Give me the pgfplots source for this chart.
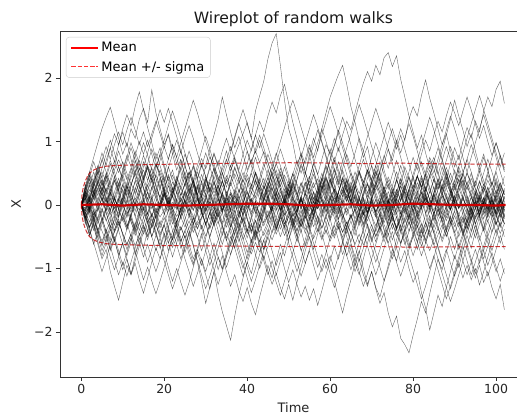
\documentclass[border=0pt]{standalone}
\usepackage{fontspec}
\setmainfont{DejaVu Sans}
\usepackage{pgfplots}
\usepackage{pgfplotstable}
\pgfplotsset{compat=1.18}

% each row is one walk, values at Time = 0,1,...,102
\pgfplotstableread[header=false]{
0 0.21 0.05 0.38 0.52 0.31 0.47 0.18 -0.12 0.05 0.33 0.12 -0.20 -0.41 -0.15 0.08 -0.22 -0.50 -0.31 0.02 0.27 0.45 0.19 0.36 0.71 0.48 0.22 0.40 0.15 -0.11 0.10 0.36 0.58 0.34 0.62 0.85 0.60 0.78 0.95 1.12 1.30 1.05 1.48 1.72 1.95 2.30 2.55 2.70 2.20 1.65 1.20 0.98 0.64 0.80 0.52 0.30 0.55 0.28 0.04 -0.20 0.12 -0.08 0.20 0.44 0.26 0.05 -0.28 -0.10 0.18 0.35 0.10 -0.16 -0.40 -0.22 0.06 0.30 0.52 0.33 0.60 0.42 0.18 -0.05 0.21 -0.12 -0.35 -0.15 0.10 0.32 0.14 -0.08 0.20 0.41 0.25 0.52 0.30 0.08 -0.18 0.04 0.28 0.10 -0.14 0.06 0.22
0 -0.18 -0.35 -0.12 -0.40 -0.62 -0.38 -0.55 -0.20 0.08 0.25 0.02 0.30 0.55 0.32 0.10 -0.14 0.12 -0.20 -0.45 -0.30 -0.58 -0.82 -0.60 -0.35 -0.52 -0.78 -0.95 -0.70 -0.88 -1.10 -1.32 -1.05 -1.40 -1.68 -1.90 -2.13 -1.75 -1.42 -1.15 -0.90 -1.08 -0.80 -0.55 -0.70 -0.42 -0.18 -0.40 -0.15 0.10 0.32 0.12 0.40 0.65 0.48 0.80 1.05 0.85 1.20 1.45 1.70 1.88 2.05 2.20 1.90 1.55 1.30 1.02 0.75 0.92 0.60 0.35 0.52 0.20 0.02 -0.25 -0.05 0.18 -0.10 -0.32 -0.12 0.15 0.38 0.16 -0.08 0.20 0.42 0.24 0.50 0.28 0.05 -0.22 -0.45 -0.20 -0.42 -0.15 0.10 -0.12 0.15 -0.08 -0.30 -0.10 0.12
0 -0.25 -0.48 -0.30 -0.62 -0.85 -0.70 -1.05 -1.28 -1.50 -1.22 -0.95 -1.10 -0.80 -0.52 -0.68 -0.40 -0.15 -0.32 -0.05 0.20 0.02 0.28 0.05 -0.18 0.10 0.32 0.15 0.40 0.62 0.45 0.20 0.38 0.12 -0.10 0.15 0.35 0.58 0.40 0.18 0.42 0.25 0.50 0.30 0.05 -0.20 0.02 0.25 0.48 0.30 0.10 0.35 0.18 -0.05 0.20 0.42 0.65 0.48 0.72 0.95 0.80 1.05 0.85 1.10 1.32 1.18 1.45 1.70 1.92 2.10 1.95 2.20 2.05 2.32 2.40 2.18 2.35 1.98 1.70 1.40 1.15 0.90 1.10 0.82 0.58 0.75 0.50 0.25 0.45 0.20 0.38 0.60 0.42 0.15 -0.08 0.12 -0.15 0.05 0.28 0.10 -0.12 0.08 -0.18
0 0.30 0.52 0.35 0.60 0.42 0.70 0.90 0.68 0.95 1.15 0.92 1.20 1.05 1.35 1.52 1.30 1.81 1.45 1.20 0.95 1.10 0.80 0.55 0.72 0.45 0.20 0.38 0.12 -0.10 0.15 -0.05 -0.28 -0.10 0.18 0.40 0.22 -0.02 0.25 0.05 -0.20 -0.42 -0.18 0.05 0.30 0.12 -0.15 -0.38 -0.20 0.08 -0.12 -0.35 -0.58 -0.40 -0.65 -0.45 -0.20 -0.42 -0.18 0.05 -0.22 -0.48 -0.30 -0.55 -0.80 -0.62 -0.90 -0.72 -1.00 -1.25 -1.05 -1.32 -1.55 -1.38 -1.70 -1.92 -1.75 -2.10 -2.20 -2.33 -2.05 -1.80 -1.52 -1.70 -1.40 -1.12 -0.85 -1.02 -0.75 -0.50 -0.70 -0.42 -0.20 -0.45 -0.22 0.05 -0.18 0.10 -0.12 0.15 0.38 0.18 -0.05
0 -0.15 0.10 -0.20 0.05 0.28 0.08 -0.18 -0.40 -0.22 -0.48 -0.70 -0.52 -0.78 -0.60 -0.35 -0.55 -0.30 -0.08 -0.32 -0.15 0.12 -0.10 -0.35 -0.58 -0.40 -0.62 -0.85 -0.68 -0.45 -0.72 -0.95 -0.75 -1.02 -0.80 -1.05 -1.28 -1.10 -1.35 -1.52 -1.30 -1.55 -1.73 -1.45 -1.20 -0.95 -1.15 -0.88 -0.62 -0.80 -0.55 -0.30 -0.50 -0.25 -0.02 -0.22 0.05 0.28 0.10 -0.12 0.15 -0.08 0.20 0.42 0.25 0.02 0.30 0.10 -0.15 0.08 0.32 0.55 0.38 0.65 0.88 0.70 0.98 1.20 1.02 1.35 1.55 1.40 1.72 1.97 1.68 1.45 1.20 0.95 1.12 0.85 0.60 0.78 0.52 0.30 0.50 0.25 0.05 0.28 0.08 -0.15 0.10 -0.12 0.14
0 0.18 -0.05 0.22 0.05 -0.20 -0.42 -0.25 0.02 -0.18 0.08 0.30 0.12 -0.10 0.15 0.38 0.58 0.40 0.65 0.45 0.22 0.48 0.25 0.02 -0.22 -0.05 0.20 -0.02 0.25 0.48 0.30 0.08 -0.15 0.10 -0.12 -0.35 -0.18 0.05 -0.20 0.02 0.28 0.50 0.32 0.08 0.30 0.55 0.35 0.12 -0.10 0.15 -0.08 -0.30 -0.12 0.12 0.35 0.15 -0.08 0.18 0.40 0.62 0.45 0.70 0.50 0.28 0.05 0.30 0.52 0.35 0.10 -0.12 0.12 -0.10 -0.32 -0.15 0.08 -0.15 0.10 0.35 0.18 -0.05 0.20 0.45 0.28 0.52 0.75 0.58 0.35 0.60 0.40 0.65 0.90 0.72 1.00 1.22 1.05 1.32 1.15 1.48 1.70 1.55 1.82 1.95 1.60
0 -0.22 -0.05 0.20 0.42 0.22 0.48 0.70 0.52 0.30 0.55 0.78 0.60 0.85 0.65 0.40 0.62 0.38 0.15 0.40 0.18 -0.05 0.20 0.45 0.28 0.05 -0.18 0.08 -0.15 -0.38 -0.20 0.05 0.28 0.10 -0.12 0.12 0.35 0.18 -0.05 0.18 -0.08 -0.30 -0.52 -0.35 -0.10 0.15 -0.08 0.20 0.02 -0.22 -0.45 -0.25 -0.50 -0.72 -0.55 -0.30 -0.08 -0.30 -0.52 -0.32 -0.10 0.12 -0.12 0.10 0.32 0.12 -0.12 0.10 -0.15 0.08 -0.18 -0.42 -0.22 0.02 -0.25 -0.05 0.18 0.40 0.20 -0.02 -0.25 -0.48 -0.30 -0.55 -0.35 -0.12 -0.35 -0.58 -0.40 -0.65 -0.85 -0.62 -0.88 -1.10 -0.90 -1.15 -0.95 -1.22 -1.05 -1.30 -1.48 -1.25 -1.65
0 -0.12 -0.35 -0.18 -0.42 -0.65 -0.48 -0.72 -0.55 -0.80 -1.02 -0.85 -1.10 -0.92 -1.18 -1.39 -1.15 -0.90 -0.68 -0.85 -0.60 -0.35 -0.55 -0.28 -0.05 0.20 0.02 0.28 0.52 0.35 0.62 0.88 1.10 1.35 1.70 1.42 1.15 0.90 1.08 0.80 0.55 0.72 0.48 0.25 0.42 0.18 -0.05 0.18 -0.08 0.15 0.38 0.15 -0.10 0.12 -0.12 -0.35 -0.15 0.10 -0.12 0.12 0.35 0.58 0.40 0.18 0.42 0.20 -0.05 -0.28 -0.10 -0.32 -0.55 -0.35 -0.12 -0.38 -0.60 -0.42 -0.68 -0.90 -0.72 -1.00 -1.22 -1.05 -1.38 -1.62 -1.97 -1.70 -1.42 -1.60 -1.30 -1.05 -0.80 -0.98 -0.72 -0.48 -0.68 -0.42 -0.18 -0.40 -0.15 0.08 -0.15 0.10 -0.08
0 0.25 0.48 0.30 0.58 0.82 0.62 0.90 1.12 0.95 1.20 1.42 1.25 1.55 1.78 1.50 1.22 0.98 0.72 0.90 0.62 0.38 0.55 0.30 0.05 -0.18 -0.40 -0.62 -0.90 -1.20 -1.55 -1.30 -1.05 -0.82 -1.00 -0.75 -0.50 -0.68 -0.42 -0.20 -0.42 -0.18 0.05 -0.18 0.08 0.30 0.10 0.35 0.58 0.38 0.15 0.38 0.60 0.82 0.65 0.90 0.70 0.48 0.25 0.45 0.22 0.45 0.68 0.50 0.28 0.05 0.28 0.52 0.30 0.55 0.35 0.12 -0.10 0.15 -0.10 0.12 0.38 0.62 0.42 0.20 0.42 0.65 0.45 0.22 0.48 0.25 0.02 -0.22 -0.02 0.22 0.00 -0.25 -0.48 -0.28 -0.05 0.18 -0.05 -0.28 -0.50 -0.30 -0.08 0.15 -0.10
0 0.12 0.35 0.15 -0.10 0.12 -0.12 -0.35 -0.15 0.10 -0.15 -0.38 -0.18 0.05 0.28 0.08 -0.15 0.10 0.35 0.55 0.38 0.60 0.40 0.18 0.40 0.62 0.85 0.65 0.42 0.20 0.42 0.22 0.48 0.70 0.50 0.28 0.52 0.75 0.55 0.80 1.02 0.85 1.10 1.32 1.15 1.40 1.62 1.45 1.72 1.90 1.60 1.30 1.05 0.78 0.52 0.30 0.05 -0.20 -0.45 -0.70 -0.95 -1.20 -1.45 -1.70 -1.42 -1.18 -0.92 -1.10 -0.85 -0.60 -0.38 -0.58 -0.32 -0.08 -0.30 -0.05 0.18 -0.05 0.22 0.45 0.25 0.02 0.25 0.48 0.28 0.05 -0.18 0.05 0.28 0.50 0.30 0.55 0.35 0.12 -0.10 0.15 0.38 0.18 -0.05 0.20 0.42 0.22 0.45
0 -0.20 0.02 -0.22 -0.45 -0.25 -0.02 0.20 0.02 0.25 0.48 0.28 0.05 -0.18 0.05 -0.20 -0.42 -0.22 -0.45 -0.68 -0.48 -0.72 -0.50 -0.28 -0.05 -0.28 -0.50 -0.30 -0.08 0.15 -0.10 0.12 0.35 0.15 -0.08 0.15 0.38 0.60 0.40 0.18 -0.05 0.18 0.40 0.20 -0.02 -0.25 -0.05 -0.28 -0.50 -0.32 -0.55 -0.35 -0.12 0.10 -0.12 0.12 0.35 0.15 -0.08 -0.30 -0.52 -0.32 -0.55 -0.78 -0.58 -0.82 -1.05 -0.85 -1.10 -1.28 -1.05 -1.30 -1.45 -1.20 -0.95 -0.70 -0.88 -0.62 -0.38 -0.15 -0.38 -0.12 0.12 0.35 0.55 0.38 0.62 0.85 1.10 1.35 1.65 1.40 1.18 0.92 1.12 0.85 0.60 0.80 0.55 0.30 0.52 0.28 0.05
0 0.28 0.52 0.75 0.98 1.20 1.38 1.54 1.30 1.05 0.80 0.98 0.72 0.48 0.70 0.45 0.22 0.42 0.18 -0.05 0.18 -0.08 -0.30 -0.10 0.12 -0.12 0.10 0.32 0.12 -0.10 -0.32 -0.12 0.12 -0.10 -0.32 -0.52 -0.32 -0.08 -0.30 -0.52 -0.75 -0.55 -0.78 -1.00 -0.80 -1.05 -1.25 -1.08 -1.30 -1.48 -1.25 -1.50 -1.22 -0.98 -0.72 -0.50 -0.70 -0.45 -0.22 -0.45 -0.20 0.02 -0.22 0.02 0.25 0.05 0.28 0.50 0.30 0.08 0.30 0.52 0.32 0.10 -0.12 0.10 -0.15 0.08 0.30 0.10 -0.12 -0.35 -0.15 0.10 -0.12 0.12 0.35 0.15 0.38 0.18 -0.05 0.18 -0.05 -0.28 -0.08 -0.30 -0.10 0.12 -0.10 0.12 0.35 0.15 -0.08
0 0.15 -0.08 0.15 0.38 0.20 -0.02 0.22 0.45 0.25 0.02 -0.20 0.02 0.25 0.45 0.68 0.48 0.25 0.48 0.70 0.92 0.72 0.95 0.75 0.52 0.30 0.52 0.30 0.08 -0.15 0.08 -0.15 0.08 0.30 0.12 -0.10 0.12 -0.12 -0.35 -0.15 0.08 0.30 0.52 0.35 0.12 0.35 0.15 -0.08 0.15 -0.08 -0.30 -0.10 0.12 0.35 0.15 0.38 0.18 -0.05 0.18 0.40 0.20 -0.02 0.20 0.42 0.22 0.00 -0.22 -0.02 0.20 0.42 0.62 0.45 0.68 0.48 0.25 0.48 0.70 0.50 0.28 0.52 0.75 0.55 0.80 1.02 0.85 1.10 1.32 1.15 1.40 1.62 1.45 1.25 1.48 1.70 1.50 1.28 1.05 1.25 1.00 0.78 0.98 0.75 0.52
0 -0.25 -0.48 -0.28 -0.50 -0.72 -0.55 -0.32 -0.55 -0.78 -0.60 -0.38 -0.15 -0.38 -0.60 -0.82 -0.62 -0.85 -1.05 -0.85 -0.62 -0.40 -0.62 -0.40 -0.18 0.05 -0.18 0.05 0.28 0.08 -0.15 -0.38 -0.18 -0.40 -0.62 -0.42 -0.65 -0.45 -0.22 0.00 -0.22 -0.45 -0.25 -0.48 -0.70 -0.50 -0.72 -0.95 -0.75 -1.00 -1.22 -1.02 -1.25 -1.45 -1.28 -1.50 -1.32 -1.58 -1.35 -1.10 -0.88 -0.65 -0.85 -0.60 -0.38 -0.15 -0.38 -0.15 0.08 -0.15 0.08 -0.15 -0.38 -0.58 -0.38 -0.15 -0.38 -0.60 -0.40 -0.18 0.05 -0.18 0.05 0.28 0.08 -0.15 -0.38 -0.18 -0.40 -0.20 -0.42 -0.65 -0.45 -0.68 -0.90 -0.70 -0.92 -0.72 -0.50 -0.72 -0.50 -0.28 -0.50
0 0.22 0.45 0.68 0.48 0.70 0.92 0.72 0.95 1.15 0.95 1.18 1.38 1.18 0.95 1.15 0.92 1.12 1.32 1.12 0.90 1.12 0.88 0.65 0.85 0.62 0.40 0.60 0.38 0.15 0.38 0.60 0.82 0.62 0.85 1.05 0.85 1.08 1.30 1.50 1.28 1.05 0.82 1.02 0.80 0.58 0.35 0.55 0.32 0.10 0.32 0.10 -0.12 0.10 -0.12 -0.35 -0.15 0.08 0.30 0.10 0.32 0.55 0.35 0.58 0.80 0.60 0.82 1.05 0.85 0.62 0.40 0.62 0.40 0.18 -0.05 0.18 0.40 0.20 -0.02 0.20 -0.02 0.20 0.42 0.22 0.45 0.68 0.48 0.70 0.92 0.72 0.50 0.28 0.50 0.72 0.52 0.30 0.52 0.75 0.55 0.32 0.55 0.78 0.58
0 -0.08 0.15 -0.08 -0.30 -0.10 0.12 -0.10 0.12 0.35 0.15 -0.08 0.15 0.38 0.18 -0.05 -0.28 -0.50 -0.30 -0.52 -0.75 -0.98 -1.20 -1.00 -1.22 -1.42 -1.22 -0.98 -0.75 -0.95 -0.72 -0.50 -0.28 -0.05 -0.28 -0.05 0.18 -0.05 0.18 0.40 0.20 -0.02 0.20 0.42 0.65 0.45 0.22 0.45 0.25 0.02 0.25 0.48 0.70 0.50 0.72 0.95 0.75 0.98 1.20 1.00 0.78 0.55 0.32 0.55 0.35 0.12 -0.10 -0.32 -0.12 -0.35 -0.58 -0.38 -0.15 0.08 -0.15 -0.38 -0.18 -0.40 -0.62 -0.42 -0.20 -0.42 -0.65 -0.45 -0.22 -0.45 -0.68 -0.90 -0.70 -0.92 -1.12 -0.92 -1.15 -0.95 -1.18 -1.00 -1.26 -1.05 -0.82 -0.60 -0.38 -0.60 -0.38
0 0.10 -0.12 -0.35 -0.58 -0.80 -0.60 -0.82 -1.02 -0.82 -0.60 -0.80 -0.58 -0.35 -0.12 0.10 0.32 0.12 -0.10 0.12 0.35 0.58 0.80 1.02 0.82 1.05 1.25 1.05 0.82 0.60 0.82 0.60 0.38 0.15 0.38 0.15 -0.08 0.15 -0.08 -0.30 -0.52 -0.32 -0.55 -0.32 -0.10 0.12 0.35 0.15 0.38 0.60 0.40 0.18 0.40 0.62 0.42 0.20 -0.02 0.20 0.42 0.22 0.00 0.22 0.00 -0.22 -0.45 -0.25 -0.48 -0.28 -0.05 0.18 0.40 0.62 0.85 1.08 1.30 1.10 0.88 1.10 0.88 0.65 0.42 0.20 -0.02 0.20 -0.02 -0.25 -0.05 -0.28 -0.50 -0.30 -0.08 0.15 -0.08 -0.30 -0.52 -0.32 -0.55 -0.35 -0.12 0.10 -0.12 -0.35 -0.15
0 -0.18 -0.40 -0.62 -0.42 -0.20 -0.42 -0.65 -0.88 -1.10 -0.90 -1.12 -0.90 -0.68 -0.45 -0.68 -0.90 -0.70 -0.48 -0.25 -0.48 -0.25 -0.02 0.20 -0.02 0.20 0.42 0.62 0.42 0.65 0.45 0.22 0.45 0.25 0.02 -0.20 0.02 -0.20 -0.42 -0.62 -0.85 -0.65 -0.42 -0.65 -0.88 -1.10 -0.88 -1.10 -0.88 -0.65 -0.42 -0.20 -0.42 -0.20 0.02 0.25 0.48 0.28 0.50 0.30 0.52 0.75 0.55 0.32 0.10 0.32 0.10 -0.12 -0.35 -0.12 0.10 0.32 0.12 -0.10 -0.32 -0.55 -0.35 -0.12 -0.35 -0.58 -0.80 -0.60 -0.38 -0.15 0.08 -0.15 0.08 0.30 0.52 0.32 0.55 0.35 0.12 -0.10 0.12 0.35 0.58 0.38 0.15 -0.08 0.15 -0.08 -0.30
0 0.32 0.10 0.32 0.55 0.35 0.12 -0.10 -0.32 -0.12 0.10 0.32 0.55 0.78 1.00 0.80 1.02 0.80 0.58 0.80 0.58 0.35 0.12 0.35 0.58 0.80 0.60 0.38 0.15 -0.08 -0.30 -0.52 -0.75 -0.55 -0.32 -0.55 -0.78 -0.58 -0.35 -0.12 0.10 0.32 0.12 0.35 0.58 0.80 0.60 0.82 0.62 0.40 0.18 -0.05 -0.28 -0.08 -0.30 -0.52 -0.75 -0.98 -0.78 -1.00 -0.80 -1.02 -0.80 -0.58 -0.35 -0.58 -0.35 -0.12 0.10 -0.12 0.10 0.32 0.55 0.78 0.58 0.80 1.02 0.82 1.05 1.28 1.08 0.85 0.62 0.40 0.18 0.40 0.18 -0.05 0.18 -0.05 -0.28 -0.50 -0.30 -0.08 -0.30 -0.52 -0.30 -0.08 0.15 -0.08 -0.30 -0.10 0.12
0 -0.10 0.12 0.35 0.15 0.38 0.18 0.40 0.62 0.85 0.65 0.42 0.20 -0.02 0.20 0.42 0.65 0.88 0.68 0.45 0.22 0.00 -0.22 -0.45 -0.68 -0.48 -0.70 -0.92 -0.72 -0.50 -0.28 -0.50 -0.28 -0.05 0.18 0.40 0.62 0.42 0.20 0.42 0.65 0.88 1.10 0.90 1.12 0.92 0.70 0.48 0.25 0.02 0.25 0.02 -0.20 -0.42 -0.20 0.02 -0.20 0.02 0.25 0.48 0.70 0.92 1.15 1.38 1.18 0.95 0.72 0.50 0.72 0.50 0.28 0.05 -0.18 -0.40 -0.62 -0.85 -0.65 -0.42 -0.20 -0.42 -0.20 0.02 0.25 0.48 0.70 0.50 0.72 0.95 1.18 1.40 1.20 0.98 0.75 0.52 0.75 0.98 1.20 1.42 1.20 0.98 0.75 0.52 0.30
0 0.05 -0.18 -0.40 -0.20 0.02 0.25 0.05 -0.18 -0.40 -0.62 -0.85 -1.08 -0.88 -0.65 -0.42 -0.20 0.02 -0.20 0.02 0.25 0.05 -0.18 -0.40 -0.62 -0.85 -1.05 -1.28 -1.08 -0.85 -1.05 -0.82 -0.60 -0.82 -1.02 -0.80 -0.58 -0.35 -0.58 -0.35 -0.12 0.10 -0.12 -0.35 -0.15 0.08 -0.15 -0.38 -0.18 0.05 0.28 0.50 0.30 0.08 -0.15 -0.38 -0.60 -0.82 -1.05 -0.85 -1.08 -1.30 -1.10 -0.88 -0.65 -0.42 -0.65 -0.88 -0.68 -0.45 -0.68 -0.90 -0.70 -0.48 -0.25 -0.02 0.20 0.42 0.22 0.00 0.22 0.45 0.25 0.02 -0.20 -0.42 -0.65 -0.88 -1.10 -1.32 -1.10 -0.88 -0.65 -0.88 -1.10 -0.90 -0.68 -0.90 -1.12 -0.92 -0.70 -0.48 -0.70
0 0.20 0.42 0.22 0.00 0.22 0.45 0.25 0.02 -0.20 0.02 0.25 0.48 0.70 0.50 0.28 0.05 -0.18 0.05 0.28 0.50 0.72 0.95 0.75 0.98 1.20 1.42 1.65 1.45 1.22 1.00 0.78 0.55 0.32 0.10 -0.12 -0.35 -0.15 0.08 -0.15 -0.38 -0.60 -0.40 -0.18 0.05 0.28 0.50 0.30 0.08 -0.15 0.08 0.30 0.52 0.75 0.98 1.20 1.42 1.22 1.00 0.78 0.55 0.32 0.10 -0.12 -0.35 -0.15 -0.38 -0.60 -0.40 -0.18 0.05 -0.18 0.05 0.28 0.08 -0.15 0.08 0.30 0.10 -0.12 -0.35 -0.58 -0.80 -0.60 -0.38 -0.15 0.08 -0.15 -0.38 -0.18 0.05 0.28 0.50 0.72 0.95 0.75 0.52 0.30 0.52 0.75 0.98 0.78 0.55
0 -0.30 -0.08 -0.30 -0.52 -0.30 -0.08 0.15 0.38 0.18 -0.05 -0.28 -0.50 -0.72 -0.95 -1.18 -0.98 -1.20 -1.40 -1.20 -0.98 -0.75 -0.52 -0.30 -0.52 -0.75 -0.55 -0.32 -0.10 0.12 0.35 0.58 0.80 0.60 0.38 0.15 -0.08 -0.30 -0.52 -0.75 -0.98 -1.20 -1.00 -0.78 -0.55 -0.78 -1.00 -1.22 -1.42 -1.20 -0.98 -0.75 -0.52 -0.30 -0.08 0.15 -0.08 0.15 0.38 0.60 0.40 0.18 -0.05 -0.28 -0.50 -0.72 -0.95 -0.75 -0.52 -0.30 -0.52 -0.75 -0.98 -1.20 -1.00 -0.78 -0.55 -0.32 -0.10 0.12 -0.10 -0.32 -0.55 -0.78 -1.00 -0.80 -1.02 -1.25 -1.48 -1.28 -1.05 -0.82 -0.60 -0.38 -0.15 0.08 -0.15 -0.38 -0.60 -0.82 -1.05 -0.85 -1.08
0 0.12 -0.10 0.12 0.35 0.58 0.80 1.02 0.82 0.60 0.38 0.15 -0.08 0.15 0.38 0.60 0.82 1.05 1.28 1.50 1.30 1.52 1.30 1.08 0.85 0.62 0.40 0.18 -0.05 0.18 0.40 0.20 -0.02 -0.25 -0.48 -0.28 -0.05 0.18 0.40 0.62 0.85 0.65 0.88 1.10 0.90 0.68 0.45 0.22 0.00 -0.22 -0.45 -0.68 -0.90 -1.12 -0.92 -0.70 -0.48 -0.25 -0.02 0.20 0.42 0.22 0.45 0.68 0.90 1.12 1.35 1.58 1.38 1.15 0.92 0.70 0.48 0.25 0.02 0.25 0.02 -0.20 -0.42 -0.65 -0.45 -0.22 0.00 0.22 0.45 0.68 0.90 0.70 0.48 0.25 0.02 -0.20 -0.42 -0.22 0.00 0.22 0.00 -0.22 0.00 -0.22 -0.45 -0.25 -0.02
0 -0.15 -0.38 -0.60 -0.82 -1.05 -0.85 -0.62 -0.40 -0.18 0.05 -0.18 0.05 -0.18 -0.40 -0.20 0.02 0.25 0.48 0.28 0.05 -0.18 -0.40 -0.62 -0.85 -0.65 -0.42 -0.65 -0.88 -1.10 -1.32 -1.12 -0.90 -0.68 -0.45 -0.22 -0.45 -0.68 -0.90 -1.12 -0.92 -0.70 -0.48 -0.25 -0.02 0.20 0.42 0.65 0.88 0.68 0.45 0.22 0.00 -0.22 -0.45 -0.25 -0.02 0.20 0.42 0.65 0.88 0.68 0.90 0.70 0.48 0.25 0.02 -0.20 -0.42 -0.65 -0.88 -1.10 -0.90 -0.68 -0.45 -0.68 -0.90 -1.12 -0.92 -0.70 -0.48 -0.70 -0.50 -0.28 -0.05 0.18 0.40 0.20 -0.02 -0.25 -0.48 -0.70 -0.50 -0.28 -0.05 -0.28 -0.50 -0.72 -0.95 -0.75 -0.98 -1.20 -1.00
0 0.28 0.05 0.28 0.50 0.72 0.52 0.30 0.08 0.30 0.52 0.75 0.98 0.78 0.55 0.78 0.58 0.35 0.58 0.80 1.02 1.25 1.48 1.28 1.05 0.82 0.60 0.38 0.15 0.38 0.15 -0.08 -0.30 -0.52 -0.75 -0.98 -0.78 -0.55 -0.78 -1.00 -0.80 -0.58 -0.35 -0.12 0.10 0.32 0.55 0.78 1.00 1.22 1.45 1.65 1.45 1.22 1.00 0.78 0.55 0.32 0.10 0.32 0.10 -0.12 -0.35 -0.58 -0.80 -1.02 -0.82 -0.60 -0.38 -0.15 0.08 0.30 0.52 0.75 0.98 1.20 0.98 0.75 0.52 0.30 0.08 -0.15 -0.38 -0.60 -0.40 -0.62 -0.85 -1.08 -1.30 -1.52 -1.32 -1.10 -0.88 -0.65 -0.42 -0.20 0.02 0.25 0.48 0.28 0.05 -0.18 0.05
0 -0.05 0.18 0.40 0.62 0.42 0.20 -0.02 0.20 0.42 0.20 -0.02 -0.25 -0.48 -0.28 -0.05 -0.28 -0.50 -0.72 -0.52 -0.30 -0.08 0.15 0.38 0.60 0.40 0.18 0.40 0.62 0.85 1.08 0.88 0.65 0.42 0.20 -0.02 -0.25 -0.48 -0.70 -0.92 -1.15 -1.38 -1.18 -0.95 -0.72 -0.50 -0.28 -0.05 -0.28 -0.05 0.18 0.40 0.20 -0.02 0.20 0.42 0.65 0.88 1.10 1.32 1.55 1.35 1.12 0.90 0.68 0.45 0.22 0.00 -0.22 0.00 0.22 0.45 0.25 0.02 -0.20 0.02 -0.20 -0.42 -0.22 0.00 0.22 0.45 0.68 0.48 0.25 0.02 0.25 0.48 0.70 0.92 0.72 0.50 0.28 0.05 -0.18 -0.40 -0.62 -0.85 -0.65 -0.42 -0.20 0.02 -0.20
0 0.18 0.40 0.20 -0.02 -0.25 -0.48 -0.70 -0.50 -0.72 -0.95 -0.75 -0.52 -0.30 -0.08 0.15 0.38 0.60 0.82 0.62 0.40 0.18 -0.05 -0.28 -0.05 0.18 -0.05 -0.28 -0.50 -0.72 -0.52 -0.30 -0.08 0.15 0.38 0.60 0.82 1.05 1.28 1.08 0.85 0.62 0.40 0.18 -0.05 -0.28 -0.05 0.18 0.40 0.20 -0.02 -0.25 -0.48 -0.70 -0.92 -0.72 -0.95 -1.18 -0.98 -0.75 -0.52 -0.30 -0.08 0.15 0.38 0.18 0.40 0.62 0.85 1.08 1.30 1.52 1.32 1.10 0.88 0.65 0.42 0.20 -0.02 -0.25 -0.48 -0.28 -0.05 -0.28 -0.50 -0.30 -0.08 0.15 -0.08 0.15 0.38 0.60 0.82 1.05 1.28 1.50 1.72 1.50 1.28 1.05 0.82 0.60 0.82
0 -0.22 -0.45 -0.25 -0.02 0.20 0.42 0.65 0.45 0.22 0.45 0.68 0.90 0.70 0.48 0.25 0.02 -0.20 -0.42 -0.65 -0.88 -1.10 -1.32 -1.12 -0.90 -0.68 -0.45 -0.22 0.00 0.22 0.45 0.25 0.02 0.25 0.48 0.70 0.92 0.72 0.50 0.28 0.05 -0.18 -0.40 -0.62 -0.85 -0.65 -0.42 -0.20 0.02 0.25 0.05 -0.18 0.05 0.28 0.50 0.72 0.95 1.18 0.98 0.75 0.52 0.30 0.08 -0.15 -0.38 -0.60 -0.82 -1.05 -1.28 -1.08 -0.85 -0.62 -0.40 -0.18 0.05 -0.18 -0.40 -0.20 0.02 0.25 0.48 0.70 0.92 1.15 1.38 1.18 0.95 0.72 0.50 0.28 0.05 -0.18 -0.40 -0.62 -0.85 -1.08 -0.88 -0.65 -0.42 -0.20 0.02 -0.20 0.02
0 0.08 0.30 0.52 0.32 0.10 -0.12 -0.35 -0.58 -0.38 -0.15 0.08 0.30 0.52 0.75 0.98 0.78 0.55 0.32 0.10 -0.12 -0.35 -0.15 0.08 0.30 0.52 0.32 0.10 -0.12 -0.35 -0.58 -0.80 -1.02 -1.25 -1.05 -0.82 -0.60 -0.38 -0.15 0.08 0.30 0.52 0.75 0.55 0.32 0.10 -0.12 -0.35 -0.15 -0.38 -0.60 -0.82 -1.05 -0.85 -0.62 -0.40 -0.18 0.05 0.28 0.50 0.72 0.95 1.18 0.98 0.75 0.52 0.30 0.08 0.30 0.52 0.75 0.98 0.78 0.55 0.32 0.10 -0.12 -0.35 -0.58 -0.80 -1.02 -1.25 -1.48 -1.28 -1.05 -0.82 -0.60 -0.38 -0.15 0.08 0.30 0.08 -0.15 -0.38 -0.18 0.05 0.28 0.50 0.72 0.52 0.30 0.08 -0.15
0 0.14 0.31 0.09 0.26 0.40 0.22 0.35 0.12 -0.06 0.11 0.29 0.15 0.02 0.20 0.37 0.18 0.05 -0.13 0.04 0.21 0.08 -0.10 -0.27 -0.09 0.07 -0.12 -0.30 -0.14 0.03 0.18 0.36 0.19 0.33 0.51 0.34 0.47 0.29 0.10 0.26 0.08 -0.11 0.06 -0.15 -0.33 -0.16 -0.02 -0.21 -0.38 -0.19 -0.04 0.13 -0.05 0.12 0.30 0.45 0.27 0.41 0.23 0.06 -0.12 0.03 0.19 0.01 -0.16 0.02 0.17 -0.01 0.14 0.32 0.16 -0.03 0.12 0.28 0.10 -0.08 0.09 -0.10 -0.28 -0.12 0.05 0.22 0.06 -0.13 0.04 0.19 0.35 0.18 0.01 0.17 0.33 0.15 -0.02 0.14 -0.05 -0.22 -0.06 0.11 -0.07 0.09 0.24 0.07 -0.10
0 -0.11 -0.27 -0.09 -0.24 -0.41 -0.58 -0.39 -0.55 -0.36 -0.19 -0.34 -0.16 0.01 -0.15 -0.32 -0.48 -0.31 -0.47 -0.63 -0.45 -0.60 -0.42 -0.25 -0.40 -0.22 -0.05 -0.21 -0.37 -0.19 -0.02 0.16 0.01 -0.16 -0.31 -0.14 -0.30 -0.46 -0.28 -0.44 -0.60 -0.77 -0.59 -0.74 -0.56 -0.39 -0.55 -0.37 -0.20 -0.36 -0.18 -0.01 -0.17 -0.33 -0.15 0.02 -0.14 -0.30 -0.12 0.05 0.22 0.05 0.21 0.38 0.20 0.36 0.18 0.01 -0.16 0.00 -0.17 -0.33 -0.15 -0.31 -0.47 -0.29 -0.45 -0.61 -0.43 -0.26 -0.42 -0.58 -0.40 -0.56 -0.72 -0.54 -0.37 -0.53 -0.35 -0.18 -0.34 -0.16 0.01 -0.15 0.02 0.19 0.02 -0.15 0.01 -0.16 -0.32 -0.14 -0.30
0 0.16 0.02 0.19 0.35 0.52 0.36 0.53 0.69 0.51 0.68 0.50 0.33 0.49 0.31 0.14 0.30 0.47 0.29 0.12 0.28 0.11 -0.06 0.10 -0.07 0.09 0.26 0.08 -0.09 0.07 0.24 0.40 0.57 0.39 0.56 0.72 0.54 0.71 0.53 0.36 0.52 0.69 0.85 0.67 0.84 0.66 0.49 0.65 0.47 0.30 0.13 0.29 0.11 -0.06 0.10 0.27 0.09 0.25 0.42 0.24 0.41 0.23 0.06 0.22 0.39 0.21 0.37 0.54 0.36 0.19 0.35 0.52 0.34 0.17 0.33 0.15 -0.02 0.14 0.31 0.13 0.29 0.46 0.28 0.45 0.61 0.43 0.26 0.42 0.59 0.41 0.24 0.40 0.22 0.05 0.21 0.38 0.20 0.03 0.19 0.36 0.18 0.34 0.16
0 -0.09 0.07 -0.10 -0.26 -0.08 -0.25 -0.07 0.10 -0.06 -0.23 -0.39 -0.21 -0.38 -0.20 -0.03 -0.19 -0.36 -0.18 -0.01 0.16 -0.01 0.15 -0.02 -0.19 -0.35 -0.17 -0.34 -0.50 -0.32 -0.49 -0.31 -0.14 -0.30 -0.12 0.05 -0.11 0.06 -0.10 -0.27 -0.09 0.08 -0.08 -0.25 -0.07 0.10 0.27 0.09 -0.08 0.09 -0.07 -0.24 -0.40 -0.22 -0.39 -0.21 -0.04 -0.20 -0.37 -0.19 -0.35 -0.52 -0.34 -0.51 -0.33 -0.16 -0.32 -0.14 0.03 -0.13 0.04 -0.12 0.05 0.22 0.04 0.21 0.03 -0.14 0.03 -0.13 -0.30 -0.12 -0.29 -0.45 -0.27 -0.44 -0.26 -0.09 -0.25 -0.07 0.10 -0.06 0.11 -0.05 -0.22 -0.04 0.13 -0.03 -0.20 -0.02 0.15 -0.01 -0.18
0 0.19 0.01 0.20 0.38 0.21 0.04 0.23 0.41 0.60 0.42 0.25 0.43 0.62 0.44 0.27 0.09 0.28 0.10 -0.07 0.12 0.30 0.13 -0.05 0.14 0.32 0.51 0.33 0.16 0.34 0.17 -0.01 -0.18 0.01 0.19 0.02 -0.16 -0.33 -0.15 0.04 0.22 0.05 -0.13 0.06 0.24 0.43 0.25 0.08 0.26 0.09 -0.09 -0.26 -0.08 0.11 -0.07 -0.24 -0.06 0.13 0.31 0.14 -0.04 0.15 -0.03 -0.20 -0.02 0.17 0.35 0.18 0.36 0.55 0.37 0.20 0.02 0.21 0.39 0.22 0.04 -0.13 0.05 0.24 0.06 -0.11 0.08 0.26 0.09 -0.09 0.10 0.28 0.11 -0.07 0.12 0.30 0.49 0.31 0.14 -0.04 0.15 0.33 0.16 -0.02 0.17 0.35 0.18
0 -0.20 -0.03 -0.22 -0.40 -0.23 -0.06 -0.25 -0.43 -0.26 -0.45 -0.63 -0.46 -0.28 -0.47 -0.29 -0.12 -0.31 -0.13 0.04 -0.15 0.03 -0.16 -0.34 -0.17 0.01 0.18 0.36 0.19 0.01 -0.18 -0.36 -0.19 -0.02 0.16 -0.03 -0.21 -0.04 0.14 -0.05 -0.23 -0.41 -0.24 -0.43 -0.26 -0.09 -0.28 -0.46 -0.29 -0.48 -0.30 -0.13 -0.32 -0.14 0.03 -0.16 -0.34 -0.17 -0.36 -0.18 -0.01 -0.20 -0.38 -0.21 -0.04 -0.23 -0.05 0.12 -0.07 -0.25 -0.08 0.09 -0.10 -0.28 -0.11 -0.29 -0.48 -0.31 -0.49 -0.68 -0.50 -0.33 -0.52 -0.34 -0.17 -0.36 -0.18 -0.01 -0.20 -0.02 0.15 -0.04 0.13 -0.05 -0.24 -0.06 0.11 -0.08 -0.26 -0.09 0.08 -0.11 -0.29
0 0.10 0.24 0.13 0.27 0.16 0.05 0.19 0.08 -0.03 0.11 0.00 -0.11 0.03 -0.08 0.06 0.20 0.09 0.23 0.12 0.01 -0.10 0.04 -0.07 0.07 0.21 0.10 -0.01 0.13 0.02 -0.09 0.05 -0.06 -0.17 -0.03 0.11 0.00 0.14 0.03 -0.08 0.06 0.20 0.09 -0.02 0.12 0.01 -0.10 0.04 -0.07 0.07 -0.04 0.10 -0.01 0.13 0.02 -0.09 0.05 -0.06 0.08 -0.03 0.11 0.25 0.14 0.03 0.17 0.06 -0.05 0.09 -0.02 -0.13 0.01 -0.10 0.04 -0.07 0.07 -0.04 0.10 -0.01 -0.12 0.02 -0.09 0.05 0.19 0.08 -0.03 0.11 0.00 0.14 0.03 -0.08 0.06 -0.05 0.09 -0.02 0.12 0.01 -0.10 0.04 -0.07 0.07 -0.04 0.10 -0.01
0 -0.13 -0.02 -0.16 -0.05 0.09 -0.02 -0.15 -0.04 0.10 -0.01 -0.14 -0.03 0.11 0.00 -0.13 -0.27 -0.16 -0.05 -0.19 -0.08 0.06 -0.05 -0.18 -0.07 0.07 -0.04 -0.17 -0.31 -0.20 -0.09 0.05 -0.06 -0.19 -0.08 0.06 0.20 0.09 -0.02 -0.15 -0.04 0.10 -0.01 -0.14 -0.28 -0.17 -0.06 0.08 -0.03 -0.16 -0.05 -0.18 -0.07 0.07 -0.04 -0.17 -0.06 0.08 -0.03 0.11 0.00 -0.13 -0.02 -0.15 -0.29 -0.18 -0.07 -0.20 -0.09 0.05 -0.06 -0.19 -0.08 0.06 -0.05 -0.18 -0.07 0.07 0.21 0.10 -0.01 -0.14 -0.03 0.11 0.00 -0.13 -0.02 -0.15 -0.04 0.10 -0.01 -0.14 -0.28 -0.17 -0.06 -0.19 -0.08 0.06 -0.05 -0.18 -0.07 0.07 -0.04
0 0.22 0.08 0.29 0.46 0.30 0.50 0.35 0.55 0.71 0.56 0.40 0.58 0.43 0.27 0.45 0.62 0.47 0.65 0.50 0.34 0.18 0.36 0.21 0.05 0.23 0.07 -0.09 0.09 -0.07 0.11 0.28 0.13 0.31 0.15 -0.01 0.17 0.01 -0.15 0.03 0.20 0.05 0.23 0.40 0.25 0.43 0.60 0.45 0.29 0.47 0.31 0.49 0.33 0.18 0.36 0.20 0.04 0.22 0.06 -0.10 0.08 0.25 0.10 0.28 0.12 -0.04 0.14 -0.02 0.16 0.33 0.18 0.36 0.20 0.04 -0.12 0.06 0.24 0.08 0.26 0.43 0.28 0.46 0.30 0.14 -0.02 0.16 0.00 0.18 0.35 0.20 0.04 0.22 0.39 0.24 0.42 0.26 0.10 0.28 0.12 -0.04 0.14 0.31 0.16
0 -0.18 -0.36 -0.21 -0.40 -0.57 -0.41 -0.59 -0.43 -0.27 -0.45 -0.62 -0.46 -0.64 -0.48 -0.32 -0.50 -0.34 -0.18 -0.36 -0.20 -0.38 -0.55 -0.39 -0.57 -0.41 -0.25 -0.43 -0.27 -0.11 -0.29 -0.13 -0.31 -0.15 0.01 -0.17 -0.35 -0.19 -0.37 -0.54 -0.38 -0.56 -0.40 -0.58 -0.42 -0.26 -0.44 -0.28 -0.12 -0.30 -0.14 0.02 -0.16 -0.34 -0.18 -0.36 -0.53 -0.37 -0.55 -0.39 -0.57 -0.41 -0.25 -0.43 -0.27 -0.45 -0.29 -0.13 -0.31 -0.15 -0.33 -0.50 -0.34 -0.52 -0.36 -0.20 -0.38 -0.22 -0.06 -0.24 -0.08 -0.26 -0.44 -0.28 -0.46 -0.63 -0.47 -0.31 -0.49 -0.33 -0.17 -0.35 -0.19 -0.37 -0.21 -0.05 -0.23 -0.41 -0.25 -0.43 -0.27 -0.45 -0.29
0 0.07 -0.12 0.05 0.24 0.08 0.27 0.11 -0.06 0.13 0.31 0.15 0.34 0.18 0.37 0.55 0.39 0.58 0.42 0.26 0.44 0.28 0.47 0.31 0.15 0.34 0.52 0.36 0.55 0.73 0.57 0.76 0.60 0.44 0.28 0.46 0.30 0.49 0.33 0.51 0.35 0.19 0.38 0.22 0.06 0.24 0.08 0.27 0.11 -0.05 0.13 0.32 0.16 0.35 0.19 0.03 0.21 0.05 0.24 0.42 0.26 0.45 0.29 0.13 0.31 0.50 0.34 0.52 0.36 0.55 0.39 0.23 0.41 0.25 0.44 0.28 0.12 0.30 0.14 -0.02 0.16 0.35 0.19 0.03 0.21 0.40 0.24 0.42 0.26 0.10 0.28 0.47 0.31 0.50 0.34 0.18 0.36 0.20 0.39 0.23 0.07 0.25 0.09
0 -0.06 0.12 -0.04 -0.22 -0.05 -0.23 -0.40 -0.24 -0.07 -0.25 -0.09 -0.27 -0.44 -0.28 -0.46 -0.29 -0.13 -0.31 -0.48 -0.32 -0.50 -0.67 -0.51 -0.34 -0.52 -0.36 -0.20 -0.38 -0.22 -0.05 -0.23 -0.07 0.10 -0.08 0.09 -0.09 -0.26 -0.10 -0.28 -0.45 -0.29 -0.47 -0.31 -0.48 -0.32 -0.16 0.01 -0.17 -0.34 -0.18 -0.36 -0.20 -0.03 -0.21 -0.05 0.12 -0.06 0.11 -0.07 -0.24 -0.08 -0.26 -0.43 -0.27 -0.45 -0.62 -0.46 -0.63 -0.47 -0.31 -0.49 -0.32 -0.50 -0.34 -0.17 -0.35 -0.19 -0.03 -0.21 -0.04 0.13 -0.05 0.12 -0.06 -0.23 -0.07 -0.25 -0.42 -0.26 -0.44 -0.27 -0.45 -0.29 -0.12 -0.30 -0.14 0.03 -0.15 0.02 -0.16 -0.33 -0.17
0 0.25 0.46 0.27 0.08 0.29 0.10 -0.09 0.12 -0.07 0.14 0.35 0.16 0.37 0.58 0.39 0.60 0.41 0.22 0.43 0.24 0.05 0.26 0.07 -0.12 0.09 -0.10 0.11 0.32 0.13 -0.06 0.15 0.36 0.17 0.38 0.19 0.00 0.21 0.02 -0.17 0.04 -0.15 0.06 0.27 0.08 0.29 0.50 0.31 0.52 0.33 0.14 0.35 0.16 -0.03 0.18 -0.01 0.20 0.01 0.22 0.43 0.24 0.05 -0.14 0.07 -0.12 0.09 0.30 0.11 0.32 0.13 0.34 0.15 -0.04 0.17 -0.02 0.19 0.40 0.21 0.02 0.23 0.44 0.25 0.46 0.27 0.08 0.29 0.10 -0.09 0.12 -0.07 0.14 -0.05 0.16 0.37 0.18 -0.01 0.20 0.01 0.22 0.03 -0.16 0.05 0.26
0 -0.24 -0.05 -0.26 -0.07 0.12 -0.09 0.10 -0.11 -0.32 -0.13 -0.34 -0.15 0.04 -0.17 0.02 0.21 0.00 -0.21 0.00 0.19 -0.02 0.17 0.36 0.15 0.34 0.13 -0.08 0.11 -0.10 -0.31 -0.12 -0.33 -0.14 -0.35 -0.56 -0.37 -0.58 -0.39 -0.20 -0.41 -0.22 -0.03 -0.24 -0.05 0.14 -0.07 0.12 -0.09 -0.30 -0.11 -0.32 -0.13 -0.34 -0.15 0.04 -0.17 0.02 -0.19 0.00 -0.21 -0.02 -0.23 -0.04 0.15 -0.06 0.13 -0.08 -0.29 -0.10 0.09 -0.12 0.07 -0.14 -0.35 -0.16 -0.37 -0.18 0.01 -0.20 0.00 -0.21 -0.02 0.17 -0.04 0.15 -0.06 -0.27 -0.08 -0.29 -0.10 -0.31 -0.12 0.07 -0.14 0.05 -0.16 0.03 -0.18 0.01 -0.20 -0.01 -0.22
0 0.11 -0.07 0.14 0.33 0.15 0.36 0.18 0.39 0.21 0.03 0.24 0.06 0.27 0.09 -0.09 0.12 -0.06 0.15 -0.03 0.18 0.00 0.21 0.42 0.24 0.45 0.27 0.09 0.30 0.12 0.33 0.15 -0.03 0.18 0.00 0.21 0.03 0.24 0.06 0.27 0.48 0.30 0.51 0.33 0.15 0.36 0.18 0.00 0.21 0.03 0.24 0.06 -0.12 0.09 -0.09 0.12 -0.06 0.15 0.36 0.18 0.39 0.21 0.03 0.24 0.06 0.27 0.09 -0.09 0.12 -0.06 0.15 0.36 0.18 0.00 0.21 0.03 0.24 0.06 0.27 0.09 0.30 0.12 -0.06 0.15 -0.03 0.18 0.00 0.21 0.42 0.24 0.06 0.27 0.09 0.30 0.12 -0.06 0.15 -0.03 0.18 0.00 0.21 0.03 0.24
}\rawwalks
\pgfplotstabletranspose\walks\rawwalks

\begin{document}
\begin{tikzpicture}
\begin{axis}[
  scale only axis,
  width=467pt, height=346pt,
  xmin=-5.12, xmax=107.45,
  ymin=-2.71, ymax=2.74,
  xtick={0,20,40,60,80,100},
  ytick={-2,-1,0,1,2},
  yticklabels={−2,−1,0,1,2},
  tick pos=left,
  tick align=outside,
  major tick length=4pt,
  every tick/.style={black!80, line width=0.8pt},
  axis line style={black!80, line width=0.8pt},
  tick label style={font=\fontsize{12.5}{14}\selectfont, text=black!85},
  /pgf/number format/assume math mode=true,
  xlabel={Time}, ylabel={X},
  label style={font=\fontsize{13}{15}\selectfont, text=black!85},
  xlabel style={at={(axis description cs:0.5,-0.0896)}, anchor=center},
  ylabel style={at={(axis description cs:-0.094,0.5)}, anchor=center},
  title={Wireplot of random walks},
  every axis title/.style={at={(axis description cs:0.5,1)}, anchor=south, yshift=1pt,
    font=\fontsize{15.6}{18}\selectfont, text=black!90},
  legend cell align=left,
  legend image code/.code={\draw[#1, red] (0pt,0pt) -- (27pt,0pt);},
  legend style={at={(0,1)}, anchor=north west, xshift=6pt, yshift=-6pt,
    draw=black!20, rounded corners=3pt, fill=white, fill opacity=0.8, text opacity=1,
    font=\fontsize{13}{15}\selectfont, inner xsep=4pt, inner ysep=3pt, row sep=4pt},
  walk/.style={black, line width=0.4pt, opacity=0.6, forget plot},
]
\pgfplotsinvokeforeach{0,...,44}{
  \addplot[walk] table[x=colnames, y=#1] {\walks};
}
\addplot[red!80!black, line width=2.2pt] coordinates {
(0,0) (5,0.01) (10,-0.01) (15,0.01) (20,0.0) (25,-0.01) (30,0.0) (35,0.01) (40,0.02) (45,0.02) (50,0.01) (55,-0.01) (60,0.0) (65,0.01) (70,-0.01) (75,0.0) (80,0.02) (85,0.01) (90,0.0) (95,0.0) (100,-0.01) (102.3,0.0)
};
\addlegendentry{Mean}
\addplot[red!75!black, opacity=0.8, line width=1pt, dash pattern=on 4.4pt off 1.9pt] coordinates {
(0,0) (0.2,0.17) (0.5,0.28) (1,0.38) (1.5,0.45) (2,0.5) (3,0.55) (4,0.58) (6,0.61) (8,0.62) (12,0.63) (20,0.64) (30,0.65) (40,0.66) (50,0.665) (60,0.66) (70,0.65) (75,0.66) (80,0.655) (90,0.645) (100,0.645) (102.3,0.645)
};
\addlegendentry{Mean +/- sigma}
\addplot[red!75!black, opacity=0.8, line width=1pt, dash pattern=on 4.4pt off 1.9pt, forget plot] coordinates {
(0,0) (0.2,-0.17) (0.5,-0.28) (1,-0.38) (1.5,-0.45) (2,-0.5) (3,-0.55) (4,-0.58) (6,-0.61) (8,-0.62) (12,-0.63) (20,-0.64) (30,-0.645) (40,-0.65) (50,-0.655) (60,-0.65) (70,-0.655) (80,-0.665) (90,-0.66) (100,-0.655) (102.3,-0.655)
};
\end{axis}
\pgfresetboundingbox
\useasboundingbox ([xshift=-60pt,yshift=-40pt]current axis.south west) rectangle ([xshift=-10pt,yshift=31pt]current axis.north east);
\end{tikzpicture}
\end{document}
